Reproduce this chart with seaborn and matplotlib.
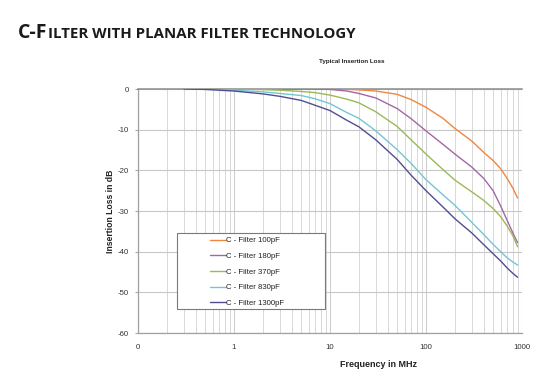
import numpy as np
import pandas as pd
import matplotlib
matplotlib.use("Agg")
import matplotlib.pyplot as plt
import seaborn as sns
from matplotlib.patches import Rectangle
from matplotlib.ticker import FixedLocator, NullFormatter

# ---- data ----
freq_mhz = [0.3, 0.5, 1, 2, 3, 5, 7, 10, 15, 20, 30, 50, 70, 100, 150, 200,
            300, 400, 500, 600, 700, 800, 900]
loss_100pf = [0, 0, 0, 0, 0, 0, 0, 0, -0.1, -0.2, -0.5, -1.3, -2.6, -4.5, -7.2,
              -9.7, -12.8, -15.6, -17.6, -19.6, -22.0, -24.3, -26.8]
loss_180pf = [0, 0, 0, 0, 0, 0, 0, -0.1, -0.5, -1.1, -2.2, -4.8, -7.3, -10.3,
              -13.6, -16.0, -19.2, -22.0, -25.0, -28.8, -32.3, -35.3, -37.8]
loss_370pf = [0, 0, -0.05, -0.15, -0.3, -0.6, -0.9, -1.5, -2.5, -3.4, -5.6,
              -9.2, -12.5, -16.0, -19.8, -22.4, -25.3, -27.4, -29.4, -31.4,
              -33.7, -36.0, -38.8]
loss_830pf = [0, -0.05, -0.3, -0.7, -1.1, -1.6, -2.4, -3.6, -5.8, -7.2, -10.3,
              -14.9, -18.3, -22.3, -26.0, -28.6, -32.8, -35.8, -38.2, -40.0,
              -41.5, -42.5, -43.3]
loss_1300pf = [0, -0.1, -0.5, -1.2, -1.8, -2.8, -4.0, -5.3, -7.7, -9.3, -12.5,
               -17.3, -21.2, -25.0, -29.0, -31.9, -35.4, -38.3, -40.5, -42.3,
               -44.0, -45.3, -46.3]
series_labels = ["C - Filter 100pF", "C - Filter 180pF", "C - Filter 370pF",
                 "C - Filter 830pF", "C - Filter 1300pF"]
series_colors = ["#F0863F", "#A466A6", "#9AB957", "#72C7D1", "#4F4F90"]
x_ticks = [0.1, 1, 10, 100, 1000]
x_tick_labels = ["0", "1", "10", "100", "1000"]
y_ticks = [0, -10, -20, -30, -40, -50, -60]

rows = []
for lab, vals in zip(series_labels, [loss_100pf, loss_180pf, loss_370pf,
                                     loss_830pf, loss_1300pf]):
    for f, v in zip(freq_mhz, vals):
        rows.append({"Frequency": f, "Loss": v, "Series": lab})
df = pd.DataFrame(rows)

# ---- figure ----
sns.set_theme(style="white")
plt.rcParams["font.family"] = ["Liberation Sans", "DejaVu Sans"]

W, H = 551, 381
fig = plt.figure(figsize=(W / 100, H / 100), dpi=100)
ax = fig.add_axes([138 / W, 1 - 333 / H, (522 - 138) / W, (333 - 89) / H])

sns.lineplot(data=df, x="Frequency", y="Loss", hue="Series",
             hue_order=series_labels, palette=series_colors, ax=ax,
             linewidth=1.0, legend=True, zorder=3)

ax.set_xscale("log")
ax.set_xlim(0.1, 1000)
ax.set_ylim(-60, 0)

ax.xaxis.set_major_locator(FixedLocator(x_ticks))
ax.set_xticklabels(x_tick_labels)
minor = [m * 10.0 ** e for e in range(-1, 3) for m in range(2, 10)]
ax.xaxis.set_minor_locator(FixedLocator(minor))
ax.xaxis.set_minor_formatter(NullFormatter())
ax.set_yticks(y_ticks)
ax.set_yticklabels([str(v) for v in y_ticks])

ax.grid(True, which="major", axis="x", color="#cfcfcf", linewidth=0.8)
ax.grid(True, which="minor", axis="x", color="#d8d8d8", linewidth=0.7)
ax.grid(True, which="major", axis="y", color="#c8c8c8", linewidth=0.8)
ax.set_axisbelow(True)

for s in ["left", "bottom", "top"]:
    ax.spines[s].set_visible(True)
    ax.spines[s].set_color("#a0a0a0")
    ax.spines[s].set_linewidth(0.9)
ax.spines["top"].set_color("#8c8c8c")
ax.spines["top"].set_linewidth(1.1)
ax.spines["right"].set_visible(False)

ax.tick_params(axis="y", which="major", length=2.5, width=0.7, color="#a0a0a0",
               direction="out", pad=4, labelsize=5.6, labelcolor="#333333", left=True)
ax.tick_params(axis="x", which="both", length=0, pad=8, labelsize=5.6,
               labelcolor="#333333", bottom=True)

ax.set_xlabel("Frequency in MHz", fontsize=6.5, fontweight="bold", color="#222222")
ax.xaxis.set_label_coords((378 - 138) / (522 - 138), -0.11)
ax.set_ylabel("Insertion Loss in dB", fontsize=6.2, fontweight="bold", color="#222222")
ax.yaxis.set_label_coords(-(138 - 115) / (522 - 138), 0.5)

# legend box
box = Rectangle((177 / W, 1 - 309 / H), (325 - 177) / W, (309 - 233) / H,
                transform=fig.transFigure, facecolor="white", edgecolor="#7a7a7a",
                linewidth=0.8, zorder=4)
fig.patches.append(box)
handles, labels = ax.get_legend_handles_labels()
ax.get_legend().remove()
leg = fig.legend(handles, labels, loc="upper left",
                 bbox_to_anchor=(210 / W, 1 - 237 / H), frameon=False,
                 fontsize=5.6, handlelength=2.0, handletextpad=0.1,
                 labelspacing=1.05, borderpad=0, borderaxespad=0)
leg.set_zorder(5)
for t in leg.get_texts():
    t.set_color("#222222")
for h in leg.legend_handles:
    h.set_linewidth(1.0)

# chart title
fig.text(352 / W, 1 - 62 / H, "Typical Insertion Loss", fontsize=4.5,
         fontweight="bold", ha="center", va="center", color="#222222")

# page heading in small caps
fig.canvas.draw()
renderer = fig.canvas.get_renderer()
t1 = fig.text(18 / W, 1 - 38 / H, "C-F", fontsize=14, fontweight="bold",
              family=["Open Sans", "DejaVu Sans"], color="#1a1a1a", va="baseline")
bb = t1.get_window_extent(renderer=renderer)
fig.text(bb.x1 / W, 1 - 38 / H, "ILTER WITH PLANAR FILTER TECHNOLOGY", fontsize=10.8,
         fontweight="bold", family=["Open Sans", "DejaVu Sans"], color="#1a1a1a",
         va="baseline")

fig.savefig("out.png", dpi=100)
